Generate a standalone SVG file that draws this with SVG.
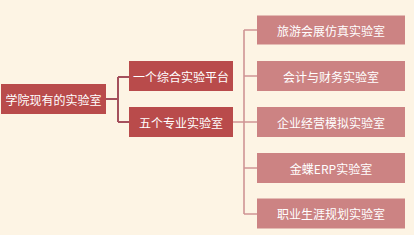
<svg xmlns="http://www.w3.org/2000/svg" width="414" height="235" viewBox="0 0 414 235">
<style>
.bg{fill:#fdf4e4}
.dark{fill:#b94b4b}
.light{fill:#cc8383}
text{font-family:"Noto Sans CJK SC","Liberation Sans",sans-serif;font-size:12px;fill:#ffffff;text-anchor:middle;dominant-baseline:central}
.c1{stroke:#a4505c;stroke-width:2;fill:none}
.c2{stroke:#cf9494;stroke-width:1.6;fill:none}
</style>
<rect class="bg" x="0" y="0" width="414" height="235"/>
<g id="connectors">
<path class="c1" d="M106 99 H118 M118 77 V122 M118 77 H129 M118 122 H129"/>
<path class="c2" d="M233 122 H244 M244 30 V214 M244 30 H257 M244 76 H257 M244 122 H257 M244 168 H257 M244 214 H257"/>
</g>
<g id="root"><rect class="dark" x="1" y="84" width="105" height="30"/><text x="53.5" y="99">学院现有的实验室</text></g>
<g id="platform"><rect class="dark" x="129" y="61" width="104" height="30"/><text x="181" y="76">一个综合实验平台</text></g>
<g id="labs"><rect class="dark" x="129" y="107" width="104" height="30"/><text x="181" y="122">五个专业实验室</text></g>
<g id="lab1"><rect class="light" x="257" y="15.5" width="148" height="29"/><text x="331" y="30">旅游会展仿真实验室</text></g>
<g id="lab2"><rect class="light" x="257" y="61" width="148" height="30"/><text x="331" y="76">会计与财务实验室</text></g>
<g id="lab3"><rect class="light" x="257" y="107" width="148" height="30"/><text x="331" y="122">企业经营模拟实验室</text></g>
<g id="lab4"><rect class="light" x="257" y="153" width="148" height="30"/><text x="331" y="168">金蝶ERP实验室</text></g>
<g id="lab5"><rect class="light" x="257" y="198.5" width="148" height="30"/><text x="331" y="213.5">职业生涯规划实验室</text></g>
</svg>
